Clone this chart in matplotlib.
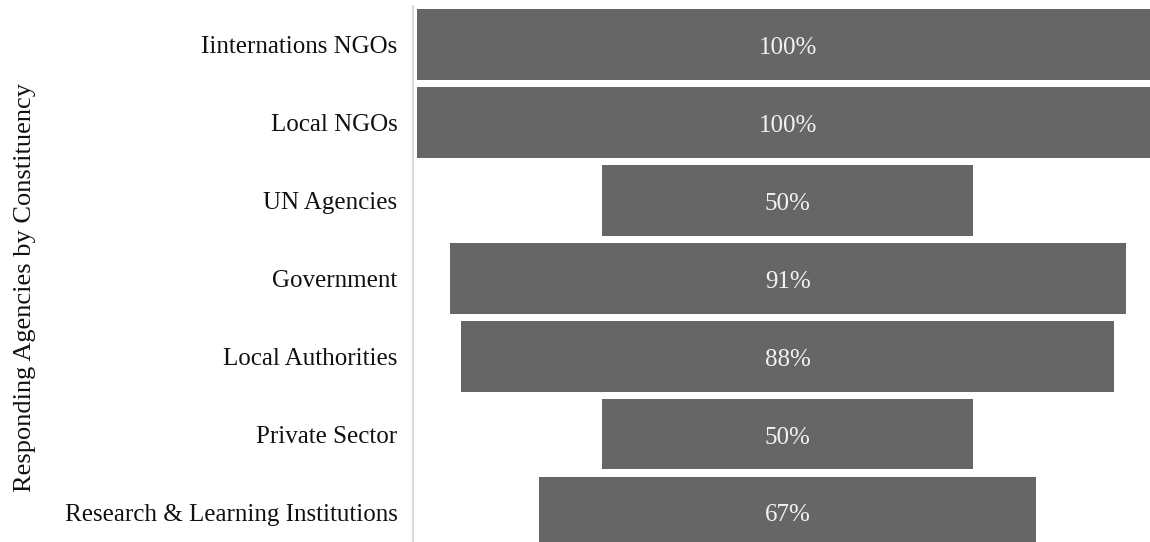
import numpy as np
import matplotlib.pyplot as plt

# data (share of agencies, %)
categories = ['Iinternations NGOs', 'Local NGOs', 'UN Agencies', 'Government',
              'Local Authorities', 'Private Sector', 'Research & Learning Institutions']
values = [100, 100, 50, 91, 88, 50, 67]

plt.rcParams['font.family'] = ['Liberation Serif', 'DejaVu Serif']

fig = plt.figure(figsize=(11.5, 5.42), dpi=100)
ax = fig.add_axes([0.359, 0.0, 0.641, 0.9897])

y = np.arange(len(categories))
vals = np.array(values, dtype=float)
bar_color = '#666666'

# funnel: each bar centred on zero
ax.barh(y, vals, left=-vals / 2, height=0.9, color=bar_color, edgecolor='none')

for yi, v in zip(y, values):
    ax.text(0, yi + 0.04, f'{v}%', ha='center', va='center', color='#f2f2f2', fontsize=18)

ax.set_xlim(-50.5, 48.8)
ax.set_ylim(6.38, -0.5)
ax.set_yticks(y)
ax.set_yticklabels(categories, fontsize=18, color='#111111')
ax.tick_params(axis='y', length=0, pad=11)
ax.set_xticks([])

for side in ['top', 'right', 'bottom']:
    ax.spines[side].set_visible(False)
ax.spines['left'].set_color('#d9d9d9')
ax.spines['left'].set_linewidth(1.5)

fig.text(0.022, 0.47, 'Responding Agencies by Constituency', rotation=90,
         ha='center', va='center', fontsize=19, color='#111111')

fig.savefig('out.png', dpi=100, facecolor='white')
